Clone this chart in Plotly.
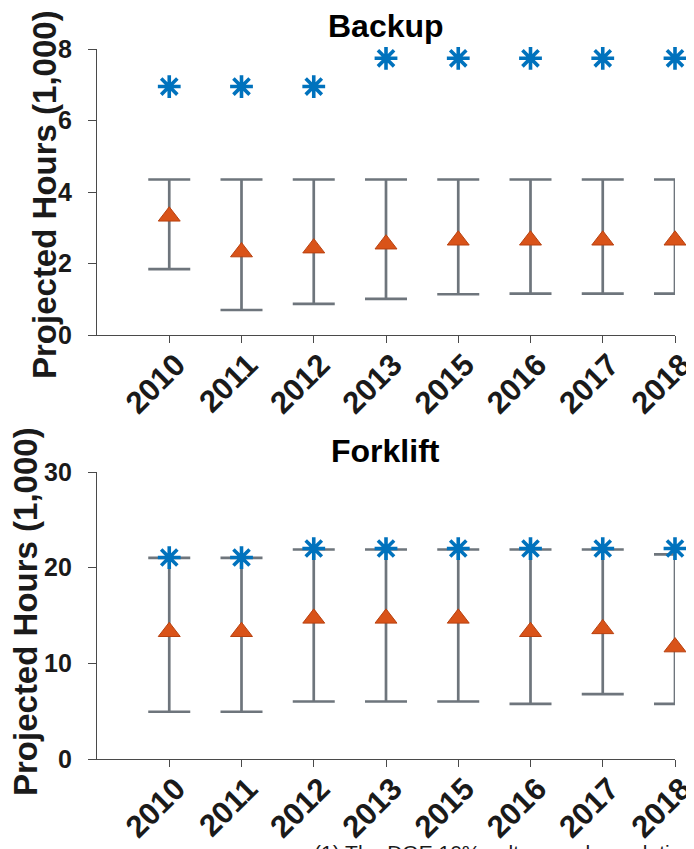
import plotly.graph_objects as go

years = ["2010", "2011", "2012", "2013", "2015", "2016", "2017", "2018"]
positions = [1, 2, 3, 4, 5, 6, 7, 8]

backup_target = [6.95, 6.95, 6.95, 7.74, 7.74, 7.74, 7.74, 7.74]
backup_mean = [3.32, 2.32, 2.43, 2.54, 2.65, 2.65, 2.65, 2.65]
backup_upper = [4.35, 4.35, 4.35, 4.35, 4.35, 4.35, 4.35, 4.35]
backup_lower = [1.84, 0.70, 0.87, 1.01, 1.14, 1.16, 1.16, 1.16]

forklift_target = [21.06, 21.06, 22.0, 22.0, 22.0, 22.0, 22.0, 22.0]
forklift_mean = [13.3, 13.3, 14.7, 14.7, 14.7, 13.3, 13.6, 11.7]
forklift_upper = [21.03, 21.03, 21.9, 21.9, 21.9, 21.9, 21.9, 21.38]
forklift_lower = [4.94, 4.94, 6.01, 6.01, 6.01, 5.77, 6.78, 5.77]

backup_ticks = [0, 2, 4, 6, 8]
forklift_ticks = [0, 10, 20, 30]

# page body has an 8px margin, so the figure is 8px smaller on each axis
W, H = 686, 841
FONT = "Liberation Sans, Arial, sans-serif"
ERR_COLOR = "#6e757c"
AX_COLOR = "#4a4a4a"

fig = go.Figure()

def add_panel(xa, ya, target, mean, upper, lower):
    plus = [u - m for u, m in zip(upper, mean)]
    minus = [m - l for m, l in zip(mean, lower)]
    fig.add_trace(go.Scatter(
        x=positions, y=mean, mode="markers", xaxis=xa, yaxis=ya,
        marker=dict(size=1, opacity=0), cliponaxis=True, showlegend=False,
        error_y=dict(type="data", symmetric=False, array=plus, arrayminus=minus,
                     color=ERR_COLOR, thickness=2.7, width=21),
        hoverinfo="skip"))
    fig.add_trace(go.Scatter(
        x=positions, y=mean, mode="markers", xaxis=xa, yaxis=ya,
        marker=dict(symbol="triangle-up", size=19, color="#d95319",
                    line=dict(color="#b8410f", width=1)),
        cliponaxis=False, showlegend=False))
    fig.add_trace(go.Scatter(
        x=positions, y=target, mode="markers", xaxis=xa, yaxis=ya,
        marker=dict(symbol="asterisk-open", size=19, color="#0072bd",
                    line=dict(color="#0072bd", width=3.6)),
        cliponaxis=False, showlegend=False))

add_panel("x", "y", backup_target, backup_mean, backup_upper, backup_lower)
add_panel("x2", "y2", forklift_target, forklift_mean, forklift_upper, forklift_lower)

def py(px):
    return 1 - px / H

xdom = [89 / W, 667 / W]
common_x = dict(range=[0, 8], tickmode="array", tickvals=positions, ticktext=years,
                tickangle=-45, showgrid=False, zeroline=False, showline=True,
                linecolor=AX_COLOR, linewidth=1.3, ticks="outside", ticklen=7,
                tickcolor=AX_COLOR, tickwidth=1.3, automargin=False,
                ticklabelstandoff=-9, ticklabelshift=7, ticklabeloverflow="allow",
                tickfont=dict(family=FONT, size=31, color="#1a1a1a", weight="bold"),
                domain=xdom)
common_y = dict(showgrid=False, zeroline=False, showline=True,
                linecolor=AX_COLOR, linewidth=1.3, ticks="outside", ticklen=8,
                tickcolor=AX_COLOR, tickwidth=1.3, automargin=False,
                ticklabelstandoff=11, ticklabeloverflow="allow",
                tickfont=dict(family=FONT, size=25, color="#1a1a1a", weight="bold"))

fig.update_layout(
    width=W, height=H,
    margin=dict(l=0, r=0, t=0, b=0),
    paper_bgcolor="white", plot_bgcolor="white",
    xaxis=dict(**common_x, anchor="y"),
    yaxis=dict(**common_y, range=[0, 8], tickvals=backup_ticks,
               domain=[py(327), py(41)], anchor="x"),
    xaxis2=dict(**common_x, anchor="y2"),
    yaxis2=dict(**common_y, range=[0, 30], tickvals=forklift_ticks,
                domain=[py(751), py(464)], anchor="x2"),
)

title_font = dict(family=FONT, size=32, color="black", weight="bold")
ytitle_font = dict(family=FONT, size=33, color="#1a1a1a", weight="bold")

annos = [
    dict(text="Backup", x=378 / W, y=py(18), font=title_font),
    dict(text="Forklift", x=378 / W, y=py(443), font=title_font),
    dict(text="Projected Hours (1,000)", x=36 / W, y=py(187), textangle=-90, font=ytitle_font),
    dict(text="Projected Hours (1,000)", x=17 / W, y=py(604), textangle=-90, font=ytitle_font),
]
for a in annos:
    fig.add_annotation(xref="paper", yref="paper", showarrow=False,
                       xanchor="center", yanchor="middle", **a)

fig.add_annotation(xref="paper", yref="paper", showarrow=False,
                   text="(1) The DOE 10% culture and population",
                   x=304 / W, y=py(831), xanchor="left", yanchor="top",
                   font=dict(family=FONT, size=21, color="#1a1a1a"))

fig.write_html("out.html")
